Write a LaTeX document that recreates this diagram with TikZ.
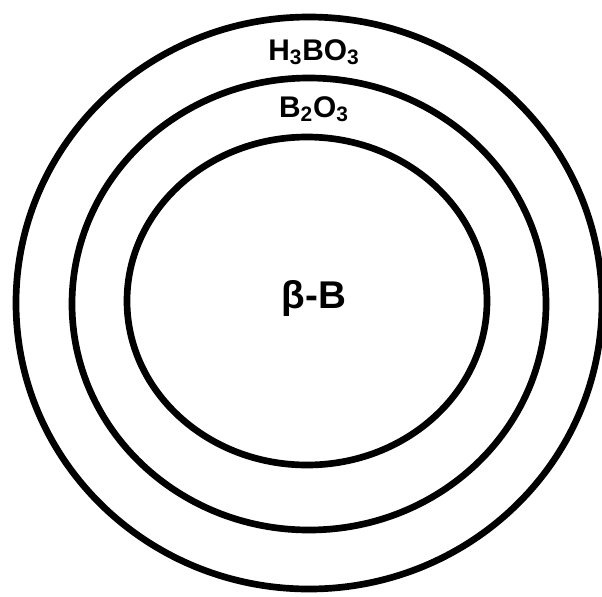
\documentclass[tikz,border=0pt]{standalone}
\usepackage{fontspec}
\setmainfont{Liberation Sans}
\usepackage{tikz}

\begin{document}
\begin{tikzpicture}[
        x=0.02cm, y=-0.02cm,
        shell/.style={draw, line width=3.8pt},
        layer/.style={font=\bfseries\fontsize{17}{19}\selectfont, inner sep=0pt},
        core/.style={font=\bfseries\fontsize{22}{24}\selectfont, inner sep=0pt}
    ]
        \useasboundingbox (0,0) rectangle (602,596);
        % Shells
        \draw[shell] (309,303) ellipse (293 and 286);
        \draw[shell] (309,304) ellipse (237 and 226);
        \draw[shell] (307,301) ellipse (180 and 164);
        
        % Labels
        \node[layer] (hbo) at (314,52) {H\textsubscript{3}BO\textsubscript{3}};
        \node[layer] (bo) at (314,109) {B\textsubscript{2}O\textsubscript{3}};
        \node[core] (bb) at (314,298) {β-B};
    \end{tikzpicture}
\end{document}
